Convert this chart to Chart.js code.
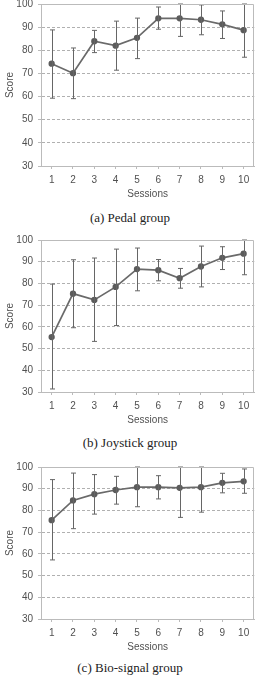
<!DOCTYPE html>
<html>
<head>
<meta charset="utf-8">
<script src="https://cdn.jsdelivr.net/npm/chart.js@4.4.1/dist/chart.umd.min.js"></script>
<style>
  html, body { margin: 0; padding: 0; background: #fff; }
  #page { position: relative; width: 260px; height: 676px; overflow: hidden; }
  .panel { position: absolute; left: 0; width: 260px; }
  .caption { position: absolute; left: 0; width: 260px; text-align: center;
             font-family: "Liberation Serif", "Times New Roman", serif; font-size: 13px;
             line-height: 14px; color: #222; }
</style>
</head>
<body>
<div id="page">
  <div class="panel" style="top:-7px;height:207px"><canvas id="chartA"></canvas></div>
  <div class="caption" style="top:211px">(a) Pedal group</div>
  <div class="panel" style="top:229px;height:197px"><canvas id="chartB"></canvas></div>
  <div class="caption" style="top:436px">(b) Joystick group</div>
  <div class="panel" style="top:456px;height:197px"><canvas id="chartC"></canvas></div>
  <div class="caption" style="top:661px">(c) Bio-signal group</div>
</div>
<script>
const sessions = ["1", "2", "3", "4", "5", "6", "7", "8", "9", "10"];
const yTicks = [30, 40, 50, 60, 70, 80, 90, 100];

// mean score + error bar ends
const pedalMean = [74.2, 70.1, 83.9, 82.0, 85.4, 93.8, 93.8, 93.2, 91.2, 88.7];
const pedalHigh = [88.8, 81.0, 88.6, 92.6, 93.9, 98.7, 100, 99.6, 97.0, 100];
const pedalLow  = [59.3, 59.1, 79.0, 71.4, 76.4, 89.1, 86.0, 86.7, 85.1, 77.0];

const joystickMean = [55.3, 75.3, 72.4, 78.4, 86.6, 86.1, 82.4, 87.8, 91.8, 93.7];
const joystickHigh = [79.7, 90.9, 91.7, 95.8, 96.3, 91.0, 86.9, 97.2, 96.9, 100];
const joystickLow  = [31.4, 59.6, 53.3, 60.6, 76.6, 81.2, 77.8, 78.4, 86.4, 84.0];

const bioMean = [75.5, 84.6, 87.5, 89.4, 90.7, 90.7, 90.4, 90.7, 92.7, 93.4];
const bioHigh = [94.2, 97.2, 96.5, 95.7, 100, 96.0, 100, 100, 97.1, 99.1];
const bioLow  = [57.2, 71.6, 78.3, 82.9, 81.7, 85.3, 76.8, 79.2, 88.1, 87.9];

const axisFont = { family: "'Liberation Sans', Arial, sans-serif", size: 10 };
const textColor = '#505050';

// draws error bars and the top/right frame lines
const errorBarPlugin = {
    id: 'errorBars',
    afterDatasetsDraw(chart, args, opts) {
        const ctx = chart.ctx;
        const xs = chart.scales.x;
        const ys = chart.scales.y;
        const area = chart.chartArea;
        ctx.save();
        ctx.beginPath();
        ctx.rect(area.left, area.top - 1, area.right - area.left, area.bottom - area.top + 2);
        ctx.clip();
        ctx.strokeStyle = '#666';
        ctx.lineWidth = 1;
        for (let i = 0; i < opts.high.length; i++) {
            const x = Math.round(xs.getPixelForValue(i)) + 0.5;
            const yh = ys.getPixelForValue(Math.min(opts.high[i], 100));
            const yl = ys.getPixelForValue(opts.low[i]);
            ctx.beginPath();
            ctx.moveTo(x, yh);
            ctx.lineTo(x, yl);
            ctx.moveTo(x - 2.5, yh);
            ctx.lineTo(x + 2.5, yh);
            ctx.moveTo(x - 2.5, yl);
            ctx.lineTo(x + 2.5, yl);
            ctx.stroke();
        }
        ctx.restore();
        ctx.save();
        ctx.strokeStyle = '#bbb';
        ctx.lineWidth = 1;
        ctx.beginPath();
        ctx.moveTo(area.left, Math.round(area.top) + 0.5);
        ctx.lineTo(Math.round(area.right) - 0.5, Math.round(area.top) + 0.5);
        ctx.lineTo(Math.round(area.right) - 0.5, area.bottom);
        ctx.stroke();
        ctx.restore();
    }
};

function makeChart(id, mean, high, low) {
    const ctx = document.getElementById(id).getContext('2d');
    return new Chart(ctx, {
        type: 'line',
        data: {
            labels: sessions,
            datasets: [{
                data: mean,
                borderColor: '#6a6a6a',
                borderWidth: 1.7,
                pointBackgroundColor: '#5c5c5c',
                pointBorderColor: '#5c5c5c',
                pointRadius: 2.3,
                tension: 0
            }]
        },
        options: {
            responsive: true,
            maintainAspectRatio: false,
            animation: false,
            layout: { padding: { left: 4, right: 5, top: 0, bottom: 0 } },
            plugins: {
                legend: { display: false },
                tooltip: { enabled: false },
                errorBars: { high: high, low: low }
            },
            scales: {
                x: {
                    offset: true,
                    grid: { display: true, drawOnChartArea: false, drawTicks: true, tickLength: 3, offset: false, color: '#bbb' },
                    border: { color: '#bbb' },
                    ticks: { color: textColor, font: axisFont, padding: 5, maxRotation: 0 },
                    title: { display: true, text: 'Sessions', color: textColor, font: axisFont, padding: { top: 0, bottom: 0 } },
                    afterFit(scale) { scale.height = 34; }
                },
                y: {
                    min: 30,
                    max: 100,
                    afterBuildTicks(scale) { scale.ticks = yTicks.map(v => ({ value: v })); },
                    grid: {
                        color: c => (c.tick && c.tick.value > 30 && c.tick.value < 100) ? '#b0b0b0' : 'rgba(0,0,0,0)',
                        drawTicks: true,
                        tickLength: 3,
                        tickColor: '#bbb',
                        tickBorderDash: [3, 2]
                    },
                    border: { color: '#bbb', dash: [3, 2] },
                    ticks: { color: textColor, font: axisFont, padding: 5 },
                    title: { display: true, text: 'Score', color: textColor, font: axisFont, padding: 0 },
                    afterFit(scale) { scale.width = 37; }
                }
            }
        },
        plugins: [errorBarPlugin]
    });
}

makeChart('chartA', pedalMean, pedalHigh, pedalLow);
makeChart('chartB', joystickMean, joystickHigh, joystickLow);
makeChart('chartC', bioMean, bioHigh, bioLow);
</script>
</body>
</html>
